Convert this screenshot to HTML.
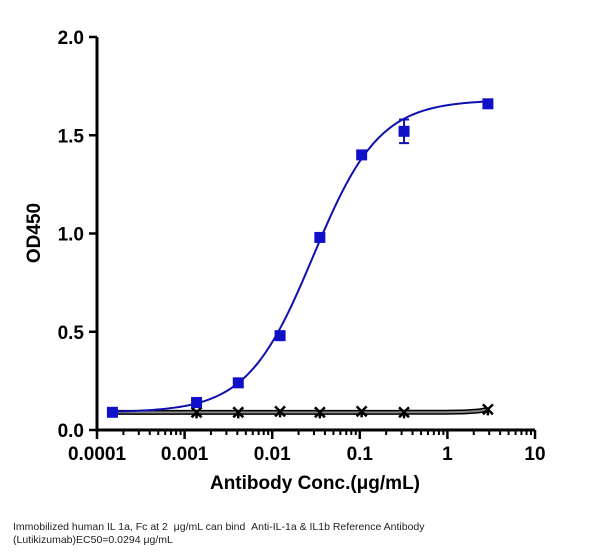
<!DOCTYPE html>
<html><head><meta charset="utf-8"><style>
body{margin:0;background:#fff;width:605px;height:560px;overflow:hidden}
svg{font-family:"Liberation Sans",Arial,sans-serif}
.cap{position:absolute;left:13px;top:521px;font:10.5px "Liberation Sans",Arial,sans-serif;color:#222;line-height:13px}
</style></head><body>
<svg id="chart" width="605" height="560" style="position:absolute;left:0;top:0"></svg>
<div class="cap">Immobilized human IL 1a, Fc at 2 &nbsp;μg/mL can bind &nbsp;Anti-IL-1a &amp; IL1b Reference Antibody<br>(Lutikizumab)EC50=0.0294 μg/mL</div>
<script>
const concs=[0.00015,0.00137,0.0041,0.0123,0.035,0.105,0.32,2.9];
const odSample=[0.09,0.14,0.24,0.48,0.98,1.40,1.52,1.66];
const errSample=[0,0,0,0,0,0,0.06,0];
const concsCtrl=[0.00137,0.0041,0.0123,0.035,0.105,0.32,2.9];
const odCtrl=[0.09,0.09,0.095,0.09,0.095,0.09,0.105];
const xTicks=[0.0001,0.001,0.01,0.1,1,10];
const xTickLabels=["0.0001","0.001","0.01","0.1","1","10"];
const yTicks=[0,0.5,1,1.5,2];
const yTickLabels=["0.0","0.5","1.0","1.5","2.0"];
const fitBottom=0.09,fitTop=1.68,fitEC50=0.0294,fitHill=1.15;
const ctrlLevel=0.09;

const ns="http://www.w3.org/2000/svg",svg=document.getElementById('chart');
const X0=97,X1=535,Y0=430,Y1=37;
const xs=v=>X0+(Math.log10(v)+4)/5*(X1-X0);
const ys=v=>Y0-v/2*(Y0-Y1);
function mk(t,a,p){const e=document.createElementNS(ns,t);for(const k in a)e.setAttribute(k,a[k]);(p||svg).appendChild(e);return e;}
let e=mk('line',{x1:X0,y1:Y1,x2:X0,y2:Y0+1.5,stroke:'#000','stroke-width':3});

e=mk('line',{x1:X0-1.5,y1:Y0,x2:X1,y2:Y0,stroke:'#000','stroke-width':3});

yTicks.forEach((v,i)=>{
 mk('line',{x1:X0-8,y1:ys(v),x2:X0,y2:ys(v),stroke:'#000','stroke-width':2.5});
 const t=mk('text',{x:X0-13,y:ys(v)+7,'text-anchor':'end','font-size':19,'font-weight':'bold'});t.textContent=yTickLabels[i];
 
});
xTicks.forEach((v,i)=>{
 mk('line',{x1:xs(v),y1:Y0,x2:xs(v),y2:Y0+9,stroke:'#000','stroke-width':2.5});
 const t=mk('text',{x:xs(v),y:Y0+30,'text-anchor':'middle','font-size':19,'font-weight':'bold'});t.textContent=xTickLabels[i];
 
 if(i<xTicks.length-1)for(let m=2;m<10;m++)mk('line',{x1:xs(v*m),y1:Y0,x2:xs(v*m),y2:Y0+5,stroke:'#000','stroke-width':2});
});
let t=mk('text',{x:315,y:489,'text-anchor':'middle','font-size':19,'font-weight':'bold'});t.textContent='Antibody Conc.(μg/mL)';

t=mk('text',{x:40,y:233,'text-anchor':'middle','font-size':19,'font-weight':'bold',transform:'rotate(-90 40 233)'});t.textContent='OD450';

let p='';for(let k=0;k<=100;k++){const lv=Math.log10(concs[0])+k/100*(Math.log10(concsCtrl[concsCtrl.length-1])-Math.log10(concs[0]));const c=Math.pow(10,lv);const yv=ctrlLevel+(odCtrl[odCtrl.length-1]-ctrlLevel)*Math.pow(c/concsCtrl[concsCtrl.length-1],3);p+=(k?'L':'M')+xs(c)+','+ys(yv);}
e=mk('path',{d:p,stroke:'#000','stroke-width':5,fill:'none'});
mk('path',{d:p,stroke:'#888','stroke-width':2,fill:'none'});
concsCtrl.forEach((c,i)=>{const x=xs(c),y=ys(odCtrl[i]);
 e=mk('path',{d:`M${x-5},${y-5}L${x+5},${y+5}M${x+5},${y-5}L${x-5},${y+5}M${x},${y}L${x},${y+6}`,stroke:'#000','stroke-width':2.5});
 });
p='';for(let k=0;k<=200;k++){const lv=Math.log10(concs[0])+k/200*(Math.log10(concs[concs.length-1])-Math.log10(concs[0]));const c=Math.pow(10,lv);const yv=fitBottom+(fitTop-fitBottom)/(1+Math.pow(fitEC50/c,fitHill));p+=(k?'L':'M')+xs(c)+','+ys(yv);}
e=mk('path',{d:p,stroke:'#1010b0','stroke-width':2,fill:'none'});
concs.forEach((c,i)=>{const x=xs(c),y=ys(odSample[i]);
 if(errSample[i]>0){const a=ys(odSample[i]+errSample[i]),b=ys(odSample[i]-errSample[i]);
  e=mk('path',{d:`M${x},${a}L${x},${b}M${x-5},${a}L${x+5},${a}M${x-5},${b}L${x+5},${b}`,stroke:'#1010b0','stroke-width':2});
  }
 e=mk('rect',{x:x-5.5,y:y-5.5,width:11,height:11,fill:'#1010c8'});
 });
</script>
</body></html>
